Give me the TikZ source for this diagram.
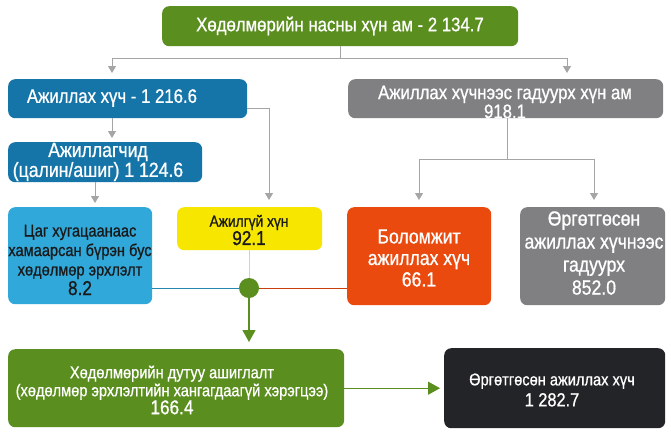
\documentclass[tikz,border=0pt]{standalone}
\usepackage{fontspec}
\setmainfont{Liberation Sans}[FakeStretch=0.86,FakeBold=0.8]
\usetikzlibrary{arrows.meta,calc}
\definecolor{cgreen}{RGB}{90,142,30}
\definecolor{cblue}{RGB}{22,117,168}
\definecolor{clblue}{RGB}{48,168,218}
\definecolor{cyellow}{RGB}{246,230,0}
\definecolor{corange}{RGB}{234,74,14}
\definecolor{cgray}{RGB}{128,128,130}
\definecolor{cdark}{RGB}{34,36,39}
\definecolor{cline}{RGB}{165,165,165}
\definecolor{ctext}{RGB}{25,25,25}
\newcommand{\fs}[2]{\fontsize{#1}{#2}\selectfont}
\begin{document}
\begin{tikzpicture}[x=1pt,y=-1pt,
  box/.style={draw=none,rounded corners=7pt,anchor=north west,inner sep=0pt},
  txt/.style={text=white,align=center,inner sep=0pt},
  garr/.style={draw=cline,line width=1pt,-{Triangle[width=8pt,length=7pt]}},
  grarr/.style={draw=cgreen,line width=1.2pt,-{Triangle[width=13pt,length=12pt]}},
]
\useasboundingbox (0,0) rectangle (671,432);
\fill[white] (0,0) rectangle (671,432);
% boxes
\node[box,fill=cgreen,minimum width=356pt,minimum height=40pt] (top) at (162,6) {};
\node[box,fill=cblue,minimum width=239pt,minimum height=39pt] (lf) at (8,79) {};
\node[box,fill=cgray,minimum width=315pt,minimum height=39pt] (gr) at (348,79) {};
\node[box,fill=cblue,minimum width=194pt,minimum height=40pt] (emp) at (8,142) {};
\node[box,fill=clblue,minimum width=144pt,minimum height=97pt] (part) at (8,207) {};
\node[box,fill=cyellow,minimum width=145pt,minimum height=43pt] (unemp) at (177,207) {};
\node[box,fill=corange,minimum width=144pt,minimum height=98pt] (pot) at (347,207) {};
\node[box,fill=cgray,minimum width=145pt,minimum height=98pt] (outx) at (520,207) {};
\node[box,fill=cgreen,minimum width=336pt,minimum height=78pt] (under) at (8,349) {};
\node[box,fill=cdark,minimum width=221pt,minimum height=80pt] (ext) at (444,348) {};
% texts
\node[txt,font=\fs{19.5}{19}] (ttop) at (340,26) {Хөдөлмөрийн насны хүн ам - 2 134.7};
\node[txt,font=\fs{19.5}{19}] (tlf) at (112,98) {Ажиллах хүч - 1 216.6};
\node[txt,font=\fs{19.5}{19}] (tgr) at (505,102) {Ажиллах хүчнээс гадуурх хүн ам\\918.1};
\node[txt,font=\fs{20.5}{18}] (temp) at (98,162) {Ажиллагчид\\(цалин/ашиг) 1 124.6};
\node[txt,text=ctext,font=\fs{17}{19.5}] (tpart) at (80,260) {Цаг хугацаанаас\\хамаарсан бүрэн бус\\хөдөлмөр эрхлэлт\\{\fs{20}{19.5}8.2}};
\node[txt,text=ctext,font=\fs{16}{16.5}] (tunemp) at (249,230) {Ажилгүй хүн\\{\fs{20}{16.5}92.1}};
\node[txt,font=\fs{20.5}{21.5}] (tpot) at (419,258) {Боломжит\\ажиллах хүч\\66.1};
\node[txt,font=\fs{20.5}{23}] (toutx) at (594,253) {Өргөтгөсөн\\ажиллах хүчнээс\\гадуурх\\852.0};
\node[txt,font=\fs{17}{18}] (tunder) at (172,390) {Хөдөлмөрийн дутуу ашиглалт\\(хөдөлмөр эрхлэлтийн хангагдаагүй хэрэгцээ)\\{\fs{20}{18}166.4}};
\node[txt,font=\fs{17}{21}] (text) at (552,390) {Өргөтгөсөн ажиллах хүч\\{\fs{19}{21}1 282.7}};
% junction
\node[circle,fill=cgreen,minimum size=20pt,inner sep=0pt] (jn) at (249,288) {};
% connectors
\draw[garr,shorten >=6pt] (top.south) -- ++(0,12) -| ([xshift=104pt]lf.north west);
\draw[garr,shorten >=6pt] (top.south) -- ++(0,12) -| ([xshift=219pt]gr.north west);
\draw[garr,shorten >=4pt] ([xshift=104pt]lf.south west) -- ([xshift=104pt]emp.north west);
\draw[garr,shorten >=7pt] ([yshift=10pt]lf.south east) -| ([xshift=92pt]unemp.north west);
\draw[garr,shorten >=4pt] ([xshift=87pt]emp.south west) -- ([xshift=87pt]part.north west);
\draw[garr,shorten >=7pt] ([xshift=2pt]gr.south) -- ++(0,41) -| ([xshift=72pt]pot.north west);
\draw[garr,shorten >=7pt] ([xshift=2pt]gr.south) -- ++(0,41) -| ([xshift=74pt]outx.north west);
\draw[draw=cyellow,line width=1pt] (unemp.south -| jn) -- (jn);
\draw[draw=clblue!80!black,line width=1pt] (part.east |- jn) -- (jn);
\draw[draw=corange!85!black,line width=1pt] (jn) -- (pot.west |- jn);
\draw[grarr,shorten >=7pt] (jn) -- (jn |- under.north);
\draw[grarr,shorten >=4pt] (under.east) -- (ext.west);
\end{tikzpicture}
\end{document}
